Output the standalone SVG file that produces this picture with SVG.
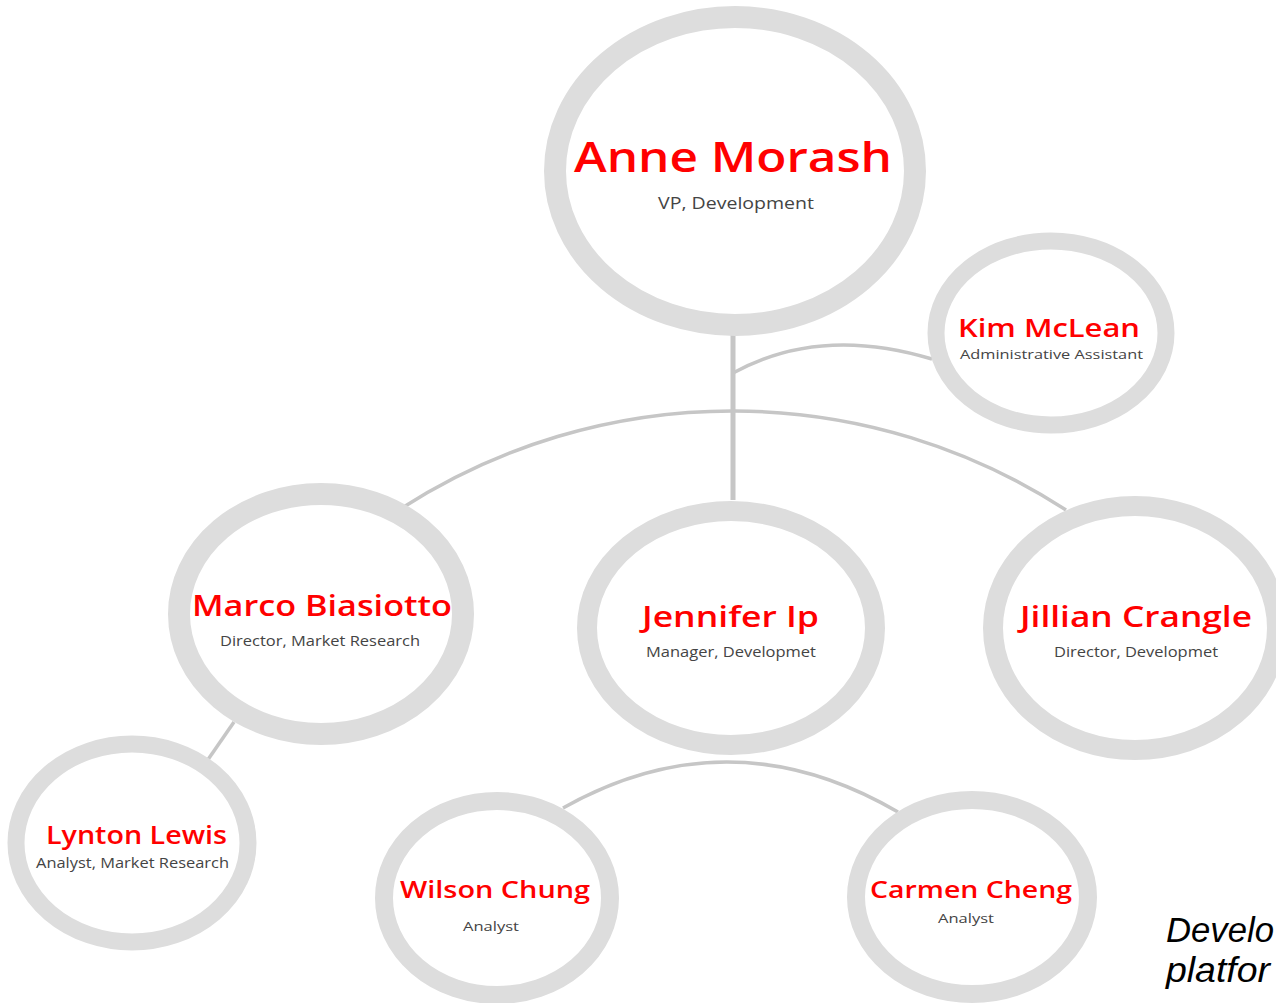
<svg xmlns="http://www.w3.org/2000/svg" width="1276" height="1003" viewBox="0 0 1276 1003">
  <style>
    .ring { fill: #ffffff; stroke: #dddddd; }
    .conn { fill: none; stroke: #c6c6c6; stroke-width: 3.5; stroke-linecap: butt; }
    .name { font-family: "Open Sans", "Noto Sans", "DejaVu Sans", sans-serif; fill: #ff0000; text-anchor: middle; font-weight: 600; }
    .role { font-family: "Open Sans", "Noto Sans", "DejaVu Sans", sans-serif; fill: #444444; text-anchor: middle; }
    .note { font-family: "Liberation Sans", Arial, sans-serif; font-style: italic; fill: #000000; font-size: 35px; }
  </style>
  <rect x="0" y="0" width="1276" height="1003" fill="#ffffff"/>

  <g id="connectors">
    <line class="conn" x1="733" y1="330" x2="733" y2="500" style="stroke-width:5"/>
    <path class="conn" d="M733 373 Q820 325 932 359"/>
    <path class="conn" d="M402 508 A611 611 0 0 1 1066 510"/>
    <path class="conn" d="M563 808 Q730 714 898 812"/>
    <line class="conn" x1="234" y1="722" x2="207" y2="761"/>
  </g>

  <g id="node-anne">
    <ellipse class="ring" cx="735" cy="171" rx="180" ry="154" stroke-width="22"/>
    <text class="name" x="733" y="172" font-size="41" textLength="318" lengthAdjust="spacingAndGlyphs">Anne Morash</text>
    <text class="role" x="736" y="209" font-size="15.5" textLength="156" lengthAdjust="spacingAndGlyphs">VP, Development</text>
  </g>

  <g id="node-kim">
    <ellipse class="ring" cx="1051" cy="333" rx="115" ry="92" stroke-width="17"/>
    <text class="name" x="1049" y="337" font-size="26" textLength="182" lengthAdjust="spacingAndGlyphs">Kim McLean</text>
    <text class="role" x="1051.5" y="359" font-size="13" textLength="183" lengthAdjust="spacingAndGlyphs">Administrative Assistant</text>
  </g>

  <g id="node-marco">
    <ellipse class="ring" cx="321" cy="614" rx="142" ry="120" stroke-width="22"/>
    <text class="name" x="322" y="616" font-size="29" textLength="260" lengthAdjust="spacingAndGlyphs">Marco Biasiotto</text>
    <text class="role" x="320" y="646" font-size="14.5" textLength="200" lengthAdjust="spacingAndGlyphs">Director, Market Research</text>
  </g>

  <g id="node-jennifer">
    <ellipse class="ring" cx="731" cy="628" rx="144" ry="117" stroke-width="20"/>
    <text class="name" x="730.5" y="627" font-size="29" textLength="177" lengthAdjust="spacingAndGlyphs">Jennifer Ip</text>
    <text class="role" x="731" y="657" font-size="14.5" textLength="170" lengthAdjust="spacingAndGlyphs">Manager, Developmet</text>
  </g>

  <g id="node-jillian">
    <ellipse class="ring" cx="1135" cy="628" rx="142" ry="122" stroke-width="20"/>
    <text class="name" x="1136" y="627" font-size="29" textLength="232" lengthAdjust="spacingAndGlyphs">Jillian Crangle</text>
    <text class="role" x="1136" y="657" font-size="14.5" textLength="164" lengthAdjust="spacingAndGlyphs">Director, Developmet</text>
  </g>

  <g id="node-lynton">
    <ellipse class="ring" cx="132" cy="843" rx="116" ry="99" stroke-width="17"/>
    <text class="name" x="136.5" y="844" font-size="25" textLength="181" lengthAdjust="spacingAndGlyphs">Lynton Lewis</text>
    <text class="role" x="132.5" y="868" font-size="14.5" textLength="193" lengthAdjust="spacingAndGlyphs">Analyst, Market Research</text>
  </g>

  <g id="node-wilson">
    <ellipse class="ring" cx="497" cy="898" rx="113" ry="97" stroke-width="18"/>
    <text class="name" x="495" y="898" font-size="23" textLength="190" lengthAdjust="spacingAndGlyphs">Wilson Chung</text>
    <text class="role" x="491" y="931" font-size="13.5" textLength="56" lengthAdjust="spacingAndGlyphs">Analyst</text>
  </g>

  <g id="node-carmen">
    <ellipse class="ring" cx="972" cy="897" rx="116" ry="97" stroke-width="18"/>
    <text class="name" x="971" y="898" font-size="23" textLength="202" lengthAdjust="spacingAndGlyphs">Carmen Cheng</text>
    <text class="role" x="966" y="923" font-size="13.5" textLength="56" lengthAdjust="spacingAndGlyphs">Analyst</text>
  </g>

  <g id="note">
    <text class="note" x="1166" y="942" textLength="108" lengthAdjust="spacingAndGlyphs">Develo</text>
    <text class="note" x="1166" y="982" textLength="104" lengthAdjust="spacingAndGlyphs">platfor</text>
  </g>
</svg>
